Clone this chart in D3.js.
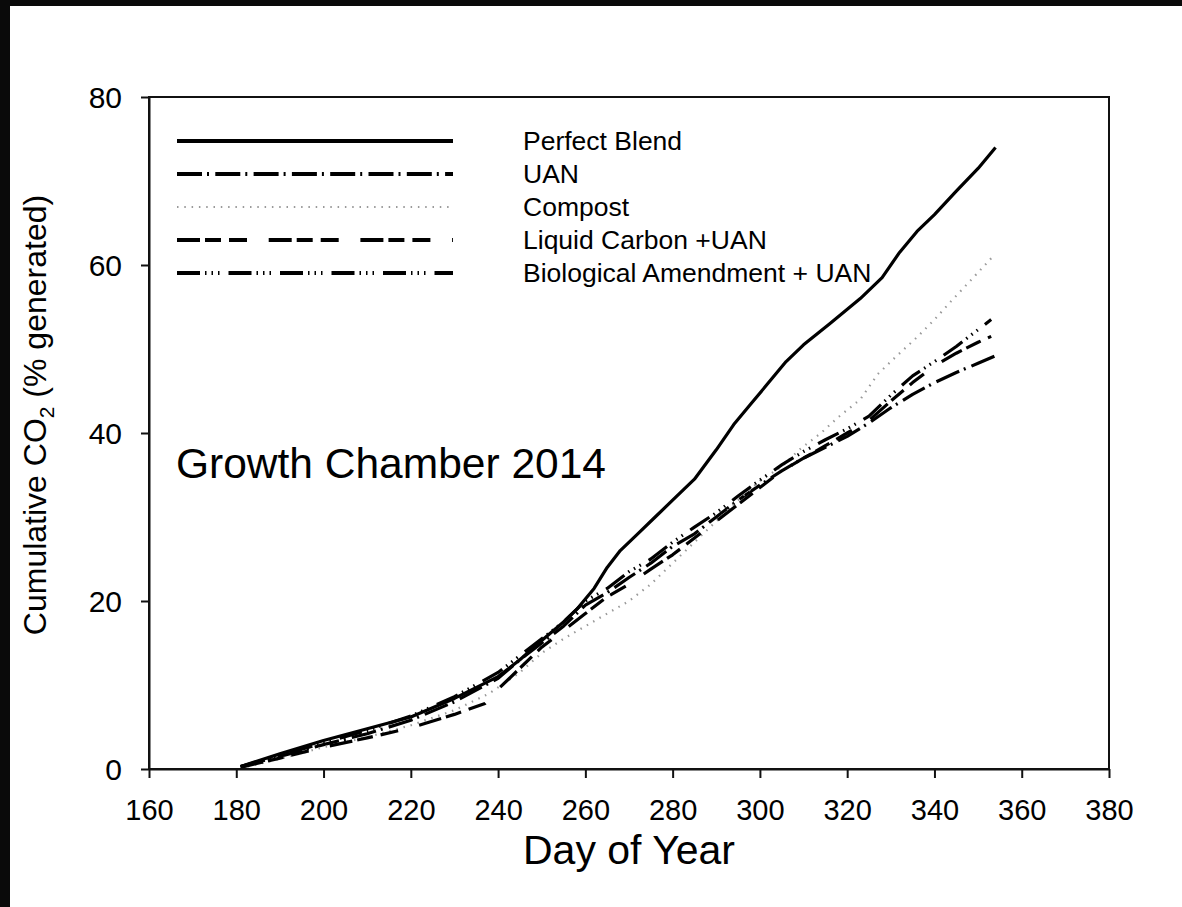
<!DOCTYPE html>
<html>
<head>
<meta charset="utf-8">
<script src="https://cdn.jsdelivr.net/npm/d3@7"></script>
<style>
  html, body { margin: 0; padding: 0; background: #0a0a0a; }
  svg { display: block; }
  text { font-family: "Liberation Sans", Arial, sans-serif; fill: #000; }
</style>
</head>
<body>
<svg id="chart" width="1182" height="907"></svg>
<script>
// Cumulative CO2 evolution, growth chamber trial 2014
const seriesNames = ["Perfect Blend", "UAN", "Compost", "Liquid Carbon +UAN", "Biological Amendment + UAN"];

const perfectDays = [181,190,200,210,220,230,240,245,250,255,258,262,265,268,272,276,280,285,290,294,298,302,306,310,316,323,328,332,336,340,345,350,354];
const perfectVals = [0.3,1.8,3.4,4.8,6.2,8.4,11.0,13.0,15.3,17.5,19.0,21.5,24.0,26.0,28.0,30.0,32.0,34.5,38.0,41.0,43.5,46.0,48.5,50.5,53.0,56.0,58.5,61.5,64.0,66.0,68.8,71.5,74.0];

const uanDays = [181,190,200,210,220,230,240,245,250,255,260,265,270,275,280,285,290,295,300,305,310,315,320,325,330,335,340,345,350,354];
const uanVals = [0.3,1.5,2.9,4.2,5.8,8.0,10.8,13.0,15.0,17.0,19.5,21.0,22.8,24.5,26.5,28.0,30.0,32.0,33.8,35.5,37.0,38.3,39.6,41.2,43.0,44.6,46.0,47.2,48.3,49.2];

const compostDays = [181,190,200,210,220,230,238,245,250,255,260,265,270,275,280,285,290,295,300,305,309,314,318,323,327,331,336,340,344,348,353];
const compostVals = [0.1,1.2,2.6,3.8,5.2,7.0,9.0,11.5,13.8,15.5,17.0,18.5,20.0,22.0,24.5,27.0,29.5,32.0,34.3,36.0,38.0,40.0,41.9,44.0,47.0,49.0,51.4,53.5,55.8,58.0,60.8];

const liquidDays = [181,190,200,210,220,230,237,240,245,250,255,260,265,270,275,280,285,290,295,300,305,310,315,320,325,330,335,340,345,350,353];
const liquidVals = [0.2,1.3,2.6,3.7,4.9,6.5,7.8,9.5,12.0,14.5,16.5,18.5,20.5,22.0,23.8,25.5,27.5,29.5,31.5,33.5,35.5,37.0,38.5,40.0,41.5,43.8,46.0,48.0,49.5,50.8,51.5];

const bioDays = [181,190,200,210,220,230,240,245,250,255,260,265,270,275,280,285,290,295,300,305,310,315,320,325,330,335,340,345,350,353];
const bioVals = [0.3,1.6,3.1,4.6,6.3,8.6,11.5,13.5,15.5,17.5,20.0,21.5,23.5,25.0,27.0,28.8,30.5,32.5,34.4,36.2,37.8,39.2,40.5,42.0,44.5,46.8,48.5,50.3,52.3,53.5];

const xTicks = [160,180,200,220,240,260,280,300,320,340,360,380];
const yTicks = [0,20,40,60,80];

// line styles per treatment
const styles = [
  { color: "#000", width: 3.2, dash: null },
  { color: "#000", width: 3.2, dash: "25,5,2,6.3" },
  { color: "#9a9a9a", width: 2.2, dash: "1.5,5.8" },
  { color: "#000", width: 3.2, dash: "23,5,16,8,18,21.7" },
  { color: "#000", width: 3.2, dash: "23,5,1.5,5,1.5,5,1.5,9" }
];

const series = [
  { name: seriesNames[0], days: perfectDays, vals: perfectVals },
  { name: seriesNames[1], days: uanDays, vals: uanVals },
  { name: seriesNames[2], days: compostDays, vals: compostVals },
  { name: seriesNames[3], days: liquidDays, vals: liquidVals },
  { name: seriesNames[4], days: bioDays, vals: bioVals }
];

const svg = d3.select("#chart");

// white page area inside the dark border
svg.append("rect").attr("x", 10).attr("y", 6).attr("width", 1172).attr("height", 901).attr("fill", "#fff");

const mLeft = 149, mRight = 1109, mTop = 97, mBottom = 769;
const x = d3.scaleLinear().domain([160, 380]).range([mLeft, mRight]);
const y = d3.scaleLinear().domain([0, 80]).range([mBottom, mTop]);

// data lines
const line = d3.line().x(d => x(d[0])).y(d => y(d[1]));
const plot = svg.append("g");
series.forEach((s, i) => {
  const pts = s.days.map((d, k) => [d, s.vals[k]]);
  plot.append("path")
    .attr("d", line(pts))
    .attr("fill", "none")
    .attr("stroke", styles[i].color)
    .attr("stroke-width", styles[i].width)
    .attr("stroke-dasharray", styles[i].dash)
    .attr("stroke-linejoin", "round");
});

// frame
svg.append("rect")
  .attr("x", mLeft).attr("y", mTop)
  .attr("width", mRight - mLeft).attr("height", mBottom - mTop)
  .attr("fill", "none").attr("stroke", "#111").attr("stroke-width", 2);

// axes
const xAxis = d3.axisBottom(x).tickValues(xTicks).tickSize(9).tickSizeOuter(0);
const gx = svg.append("g").attr("transform", `translate(0,${mBottom})`).call(xAxis);
gx.select(".domain").attr("stroke", "#111").attr("stroke-width", 2);
gx.selectAll(".tick line").attr("stroke", "#111").attr("stroke-width", 2);
gx.selectAll(".tick text")
  .attr("y", 51).attr("dy", null)
  .style("font-size", "29px").style("font-family", '"Liberation Sans", Arial, sans-serif').attr("fill", "#000");

const yAxis = d3.axisLeft(y).tickValues(yTicks).tickSize(8).tickSizeOuter(0).tickPadding(19);
const gy = svg.append("g").attr("transform", `translate(${mLeft},0)`).call(yAxis);
gy.select(".domain").attr("stroke", "#111").attr("stroke-width", 2);
gy.selectAll(".tick line").attr("stroke", "#111").attr("stroke-width", 2);
gy.selectAll(".tick text")
  .attr("dy", "0.36em")
  .style("font-size", "30px").style("font-family", '"Liberation Sans", Arial, sans-serif').attr("fill", "#000");

// axis titles
svg.append("text")
  .attr("x", (mLeft + mRight) / 2).attr("y", 864)
  .attr("text-anchor", "middle")
  .style("font-size", "41px")
  .text("Day of Year");

const yTitle = svg.append("text")
  .attr("transform", "translate(46,415) rotate(-90)")
  .attr("text-anchor", "middle")
  .style("font-size", "32px");
yTitle.append("tspan").text("Cumulative CO");
yTitle.append("tspan").attr("dy", 8).style("font-size", "21px").text("2");
yTitle.append("tspan").attr("dy", -8).text(" (% generated)");

// panel label
svg.append("text")
  .attr("x", 176).attr("y", 478)
  .style("font-size", "42.5px")
  .text("Growth Chamber 2014");

// legend
const legend = svg.append("g");
series.forEach((s, i) => {
  const ly = 141 + i * 33;
  legend.append("line")
    .attr("x1", 177).attr("x2", 453)
    .attr("y1", ly).attr("y2", ly)
    .attr("stroke", styles[i].color)
    .attr("stroke-width", i === 2 ? 2 : 4)
    .attr("stroke-dasharray", styles[i].dash);
  legend.append("text")
    .attr("x", 523).attr("y", ly + 9)
    .style("font-size", "26.5px")
    .text(s.name);
});
</script>
</body>
</html>
